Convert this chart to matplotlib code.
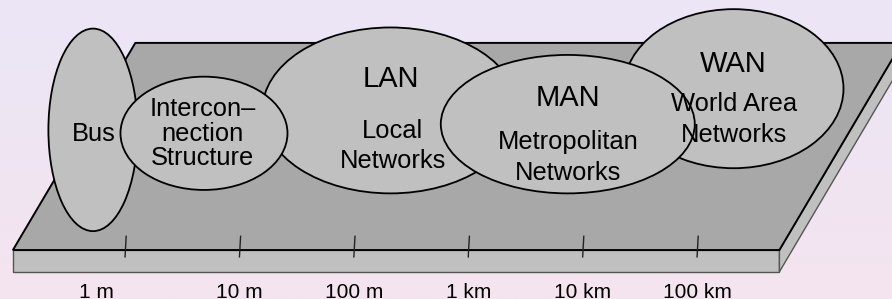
import numpy as np
import matplotlib
matplotlib.use("Agg")
import matplotlib.pyplot as plt
from matplotlib.patches import Ellipse, Polygon

plt.rcParams['font.family'] = ['Liberation Sans', 'DejaVu Sans']

# distance scale: x is log10(metres), y uses the same unit (one decade)
tick_pos = [0, 1, 2, 3, 4, 5]
tick_labels = ["1 m", "10 m", "100 m", "1 km", "10 km", "100 km"]
label_pos = [-0.25, 1, 2, 3, 4, 5]

# network ellipses
net_names = ["Bus", "Interconnection", "LAN", "MAN", "WAN"]
net_x = [-0.28, 0.69, 2.32, 3.87, 5.32]
net_y = [1.05, 1.02, 1.22, 1.10, 1.41]
net_w = [0.78, 1.46, 2.24, 2.22, 1.92]
net_h = [1.77, 0.99, 1.45, 1.21, 1.39]
net_z = [2, 3, 1, 2, 1]

acronyms = ["", "", "LAN", "MAN", "WAN"]
acro_y = [0, 0, 1.427, 1.259, 1.559]
descs = ["Bus", "Intercon\u2013\nnection\nStructure", "Local\nNetworks",
         "Metropolitan\nNetworks", "World Area\nNetworks"]
desc_x = [-0.27, 0.68, 2.34, 3.87, 5.32]
desc_y = [0.953, 0.743, 0.714, 0.612, 0.947]   # baseline of last line
desc_spacing = [1.0, 1.02, 1.34, 1.38, 1.34]

# platform slab
front_left, front_right = -0.98, 5.72
depth, skew, thick = 1.81, 1.07, 0.19

fig = plt.figure(figsize=(8.92, 2.99), dpi=100)
ax = fig.add_axes([0, 0, 1, 1])
ax.set_xlim(-1.093, 6.704)
ax.set_ylim(-0.428, 2.185)
ax.axis("off")

# background gradient
grad = np.linspace(0, 1, 256).reshape(-1, 1)
top_c = np.array([235, 230, 246]) / 255
bot_c = np.array([244, 228, 239]) / 255
img = top_c[None, None, :] * (1 - grad[:, :, None]) + bot_c[None, None, :] * grad[:, :, None]
ax.imshow(img, extent=[-1.093, 6.704, -0.428, 2.185], aspect="auto", origin="upper", zorder=-10)

front = Polygon([(front_left, 0), (front_right, 0), (front_right, -thick), (front_left, -thick)],
                closed=True, facecolor="#c0c0c0", edgecolor="#555555", lw=1.0, zorder=-2)
side = Polygon([(front_right, 0), (front_right + skew, depth), (front_right + skew, depth - thick),
                (front_right, -thick)],
               closed=True, facecolor="#c0c0c0", edgecolor="#555555", lw=1.0, zorder=-2)
top = Polygon([(front_left, 0), (front_right, 0), (front_right + skew, depth), (front_left + skew, depth)],
              closed=True, facecolor="#a8a8a8", edgecolor="black", lw=1.4, zorder=-1)
ax.add_patch(front)
ax.add_patch(side)
ax.add_patch(top)

for t in tick_pos:
    ax.plot([t, t + 0.01], [-0.06, 0.12], color="#222222", lw=1.0, zorder=0)

for p, lab in zip(label_pos, tick_labels):
    ax.text(p, -0.415, lab, ha="center", va="baseline", fontsize=15, color="black")

for i in range(len(net_names)):
    ax.add_patch(Ellipse((net_x[i], net_y[i]), net_w[i], net_h[i], facecolor="#c0c0c0",
                         edgecolor="black", lw=1.3, zorder=net_z[i]))
    if acronyms[i]:
        ax.text(net_x[i], acro_y[i], acronyms[i], ha="center", va="baseline",
                fontsize=21, zorder=10)
    ax.text(desc_x[i], desc_y[i], descs[i], ha="center", va="baseline", fontsize=18.4,
            linespacing=desc_spacing[i], multialignment="center", zorder=10)

fig.savefig("out.png", dpi=100)
